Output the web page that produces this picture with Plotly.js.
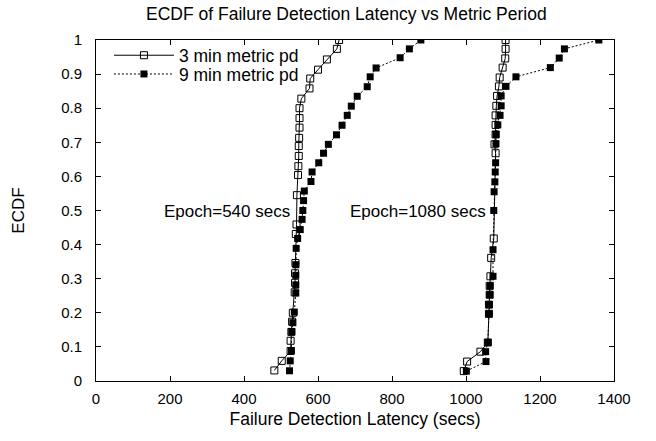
<!DOCTYPE html>
<html>
<head>
<meta charset="utf-8">
<script src="https://cdn.plot.ly/plotly-3.0.1.min.js"></script>
<style>html,body{margin:0;padding:0;background:#fff}#chart{width:656px;height:441px}</style>
</head>
<body>
<div id="chart"></div>
<script>
// 3 min metric period, epoch 540
const lat3_e540 = [482, 502, 526, 526, 528, 530, 532, 537, 538, 538, 539, 540, 542, 543, 546, 547, 548, 548, 549, 550, 550, 550, 555, 577, 579, 600, 624, 651, 657];
const cdf3_e540 = [0.031, 0.059, 0.088, 0.118, 0.144, 0.174, 0.200, 0.260, 0.288, 0.316, 0.346, 0.431, 0.459, 0.545, 0.604, 0.630, 0.660, 0.689, 0.713, 0.743, 0.771, 0.800, 0.828, 0.858, 0.887, 0.913, 0.943, 0.974, 1.000];
// 3 min metric period, epoch 1080
const lat3_e1080 = [994, 1003, 1039, 1059, 1062, 1062, 1064, 1064, 1066, 1068, 1075, 1080, 1077, 1080, 1080, 1080, 1082, 1084, 1089, 1091, 1099, 1106, 1107, 1107];
const cdf3_e1080 = [0.029, 0.057, 0.086, 0.113, 0.197, 0.224, 0.253, 0.279, 0.307, 0.361, 0.418, 0.668, 0.694, 0.723, 0.751, 0.779, 0.807, 0.836, 0.864, 0.890, 0.919, 0.946, 0.974, 1.000];
// 9 min metric period, epoch 540
const lat9_e540 = [523, 525, 528, 529, 532, 536, 540, 540, 540, 540, 541, 545, 552, 557, 559, 561, 563, 581, 584, 602, 615, 628, 650, 665, 679, 690, 706, 733, 741, 757, 822, 847, 878];
const cdf9_e540 = [0.030, 0.059, 0.089, 0.145, 0.171, 0.202, 0.258, 0.282, 0.310, 0.341, 0.389, 0.418, 0.444, 0.474, 0.500, 0.529, 0.557, 0.585, 0.613, 0.640, 0.668, 0.694, 0.722, 0.750, 0.779, 0.806, 0.835, 0.863, 0.892, 0.918, 0.948, 0.974, 1.000];
// 9 min metric period, epoch 1080
const lat9_e1080 = [1001, 1054, 1053, 1059, 1062, 1062, 1064, 1065, 1073, 1073, 1075, 1076, 1078, 1079, 1080, 1081, 1081, 1086, 1092, 1095, 1095, 1108, 1135, 1228, 1252, 1266, 1359];
const cdf9_e1080 = [0.029, 0.057, 0.086, 0.113, 0.197, 0.224, 0.253, 0.279, 0.307, 0.385, 0.500, 0.555, 0.584, 0.613, 0.640, 0.696, 0.723, 0.751, 0.779, 0.807, 0.836, 0.864, 0.892, 0.919, 0.947, 0.974, 1.000];

const seriesNames = ["3 min metric pd", "9 min metric pd"];
const xTicks = [0, 200, 400, 600, 800, 1000, 1200, 1400];
const yTicks = [0, 0.1, 0.2, 0.3, 0.4, 0.5, 0.6, 0.7, 0.8, 0.9, 1];
const epochLabels = ["Epoch=540 secs", "Epoch=1080 secs"];

const FONT = "Liberation Sans, Arial, Helvetica, sans-serif";

const traces = [
  {
    x: lat3_e540.concat([null], lat3_e1080),
    y: cdf3_e540.concat([null], cdf3_e1080),
    name: seriesNames[0],
    legend: "legend",
    mode: "lines+markers",
    connectgaps: false,
    line: {color: "#000", width: 1},
    marker: {symbol: "square-open", size: 7, color: "#000", line: {width: 1, color: "#000"}}
  },
  {
    x: lat9_e540.concat([null], lat9_e1080),
    y: cdf9_e540.concat([null], cdf9_e1080),
    name: seriesNames[1],
    legend: "legend2",
    mode: "lines+markers",
    connectgaps: false,
    line: {color: "#000", width: 1, dash: "2px,2px"},
    marker: {symbol: "square", size: 7, color: "#000"}
  }
];

const axisCommon = {
  showline: true, linecolor: "#000", linewidth: 1, mirror: "ticks",
  ticks: "inside", ticklen: 5, tickcolor: "#000", tickwidth: 1,
  showgrid: false, zeroline: false,
  tickfont: {family: FONT, size: 15, color: "#000"}
};

const legendCommon = {
  xanchor: "left", yanchor: "middle",
  bgcolor: "rgba(0,0,0,0)", itemwidth: 60,
  font: {family: FONT, size: 17.5, color: "#000"}
};

const layout = {
  width: 656, height: 441,
  margin: {l: 96, r: 42, t: 40, b: 60},
  paper_bgcolor: "#fff", plot_bgcolor: "#fff",
  font: {family: FONT, color: "#000"},
  title: {text: "ECDF of Failure Detection Latency vs Metric Period", font: {family: FONT, size: 17.5, color: "#000"}, x: 0.528, xanchor: "center", y: 0.968, yanchor: "middle"},
  xaxis: Object.assign({}, axisCommon, {
    range: [0, 1400], tickvals: xTicks, ticktext: xTicks.map(String), ticklabelstandoff: 4,
    title: {text: "Failure Detection Latency (secs)", font: {family: FONT, size: 17.5, color: "#000"}, standoff: 6}
  }),
  yaxis: Object.assign({}, axisCommon, {
    range: [0, 1], tickvals: yTicks, ticktext: yTicks.map(String), ticklabelstandoff: 10,
    title: {text: "ECDF", font: {family: FONT, size: 17, color: "#000"}, standoff: 32}
  }),
  showlegend: true,
  legend: Object.assign({}, legendCommon, {x: 0.025, y: 0.955}),
  legend2: Object.assign({}, legendCommon, {x: 0.025, y: 0.9}),
  annotations: [
    {x: 355, y: 0.497, xref: "x", yref: "y", text: epochLabels[0], showarrow: false, font: {family: FONT, size: 17, color: "#000"}},
    {x: 869, y: 0.497, xref: "x", yref: "y", text: epochLabels[1], showarrow: false, font: {family: FONT, size: 17, color: "#000"}}
  ]
};

Plotly.newPlot("chart", traces, layout, {displayModeBar: false, staticPlot: true});
</script>
</body>
</html>
